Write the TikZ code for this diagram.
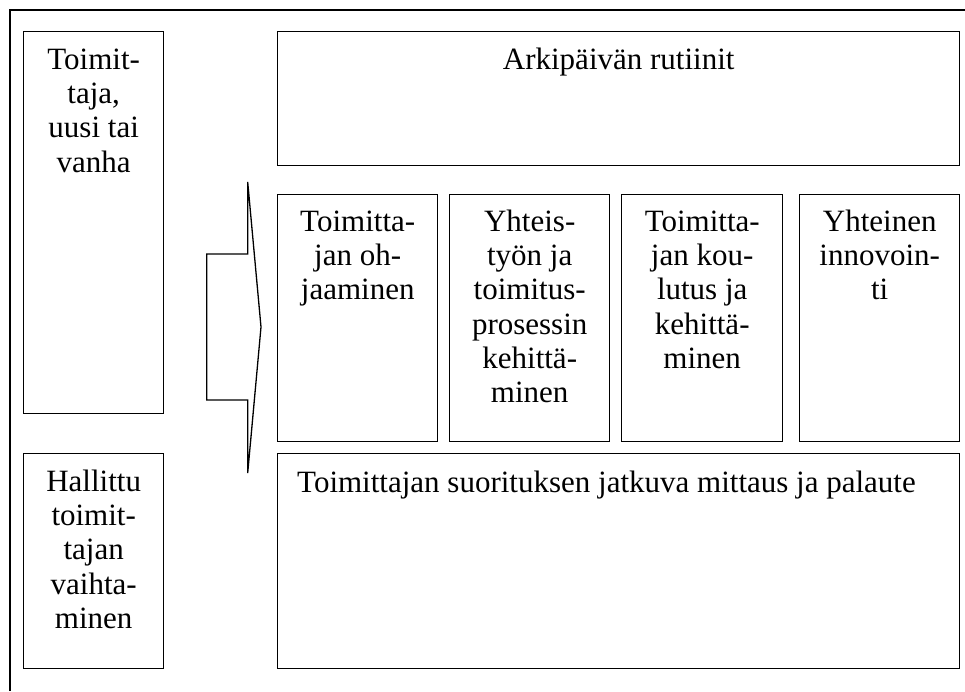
\documentclass[tikz,border=0pt]{standalone}
\usepackage{fontspec}
\setmainfont{Liberation Serif}
\begin{document}
\begin{tikzpicture}[x=1pt,y=-1pt,
  box/.style={draw, line width=1.4pt, inner sep=0pt, anchor=north west},
  lbl/.style={inner sep=0pt, align=center, anchor=north, font=\fontsize{31}{34.3}\selectfont},
  lbll/.style={inner sep=0pt, align=left, anchor=north west, font=\fontsize{31}{34.3}\selectfont}]
\useasboundingbox (0,0) rectangle (965,691);
% outer frame (clipped at right and bottom)
\draw[line width=1.3pt] (10,691) -- (10,10) -- (965,10);
% boxes
\node[box, minimum width=140pt, minimum height=382pt] (lt) at (23,31) {};
\node[box, minimum width=140pt, minimum height=215pt] (lb) at (23,453) {};
\node[box, minimum width=682pt, minimum height=134pt] (top) at (277,31) {};
\node[box, minimum width=160pt, minimum height=247pt] (m1) at (277,194) {};
\node[box, minimum width=160pt, minimum height=247pt] (m2) at (449,194) {};
\node[box, minimum width=161pt, minimum height=247pt] (m3) at (621,194) {};
\node[box, minimum width=160pt, minimum height=247pt] (m4) at (799,194) {};
\node[box, minimum width=682pt, minimum height=215pt] (bot) at (277,453) {};
% labels
\node[lbl] (tlt) at ([yshift=-14pt]lt.north) {\strut Toimit-\\taja,\\uusi tai\\vanha};
\node[lbl] (tlb) at ([yshift=-14pt]lb.north) {\strut Hallittu\\toimit-\\tajan\\vaihta-\\minen};
\node[lbl] (ttop) at ([yshift=-14pt]top.north) {\strut Arkipäivän rutiinit};
\node[lbl] (tm1) at ([yshift=-13pt]m1.north) {\strut Toimitta-\\jan oh-\\jaaminen};
\node[lbl] (tm2) at ([yshift=-13pt]m2.north) {\strut Yhteis-\\työn ja\\toimitus-\\prosessin\\kehittä-\\minen};
\node[lbl] (tm3) at ([yshift=-13pt]m3.north) {\strut Toimitta-\\jan kou-\\lutus ja\\kehittä-\\minen};
\node[lbl] (tm4) at ([yshift=-13pt]m4.north) {\strut Yhteinen\\innovoin-\\ti};
\node[lbll] (tbot) at (297,468) {\strut Toimittajan suorituksen jatkuva mittaus ja palaute};
% arrow
\draw[line width=1.3pt, line join=miter] (206.7,254) -- (247.7,254) -- (247.7,182) -- (261,327) -- (247.7,473) -- (247.7,400) -- (206.7,400) -- cycle;
\end{tikzpicture}
\end{document}
